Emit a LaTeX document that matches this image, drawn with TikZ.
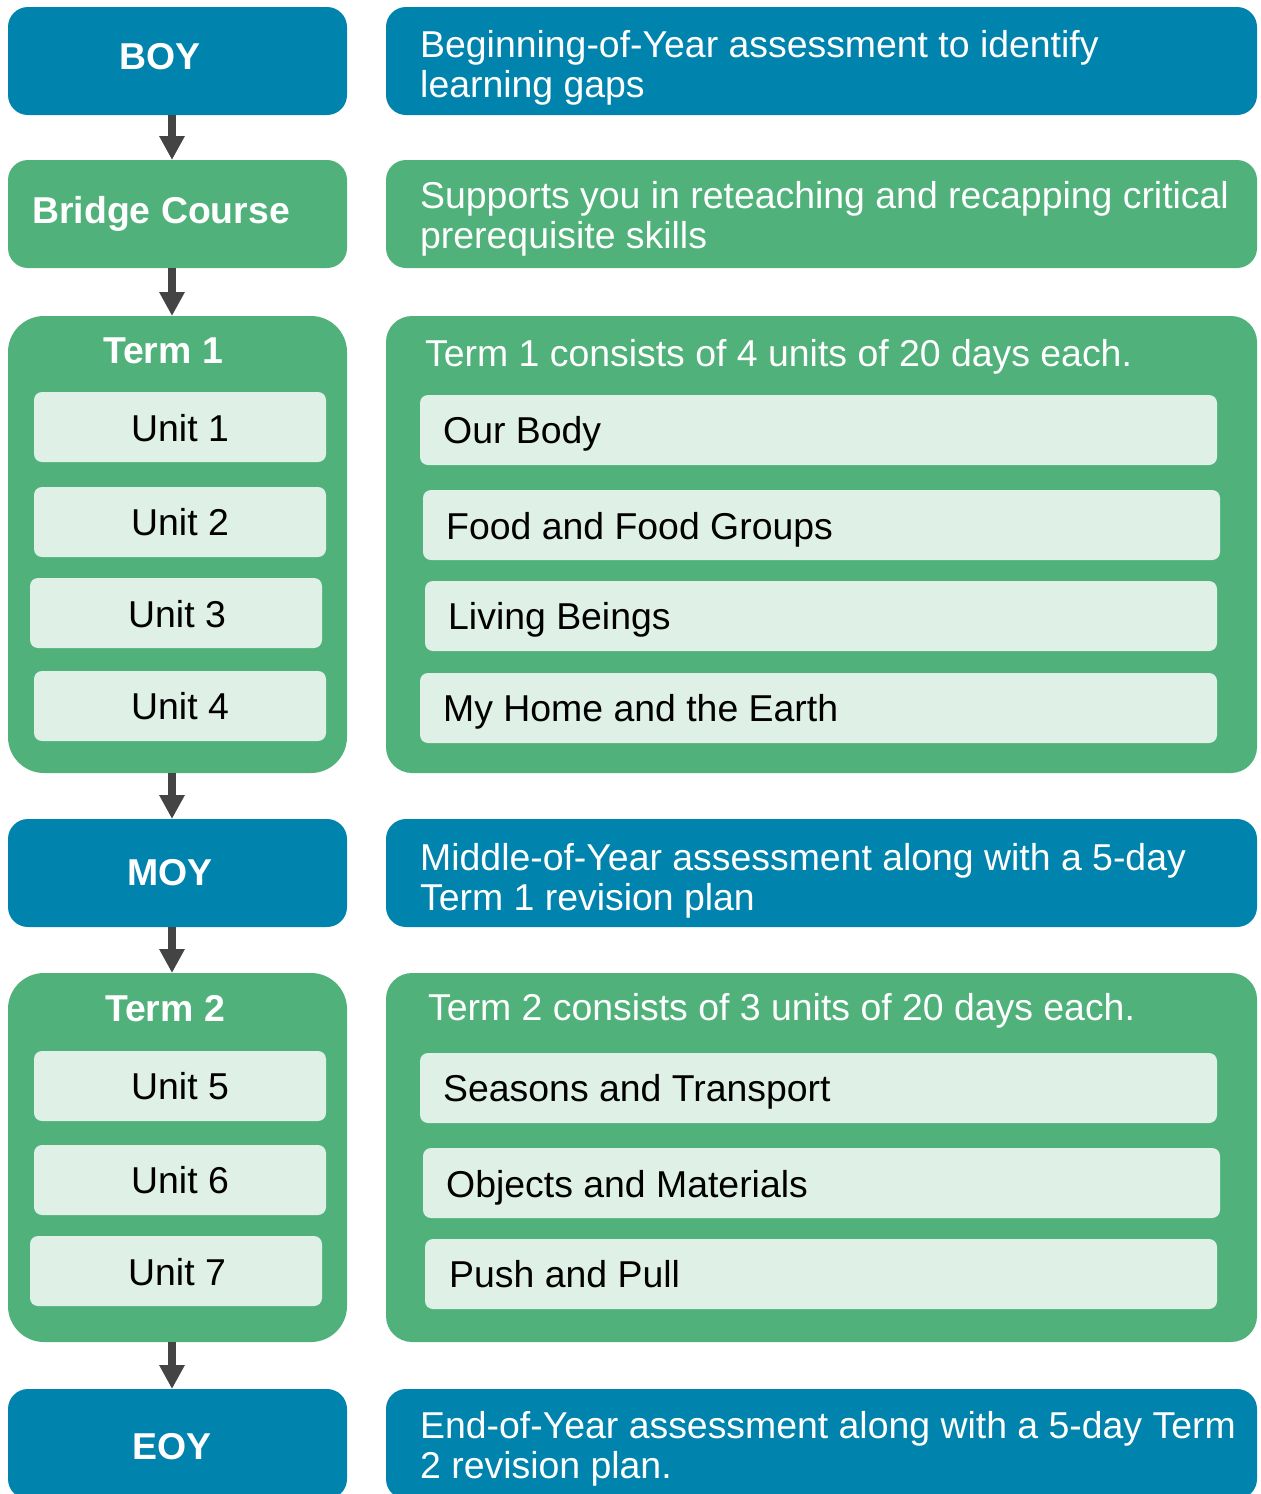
\documentclass[tikz,border=0pt]{standalone}
\usepackage{fontspec}
\setmainfont{Liberation Sans}
\usetikzlibrary{arrows.meta}
\definecolor{stageblue}{HTML}{0083AD}
\definecolor{stagegreen}{HTML}{50B27A}
\definecolor{unitfill}{HTML}{DFF0E6}
\definecolor{arrowgray}{HTML}{444444}
\begin{document}
\begin{tikzpicture}[x=1pt,y=-1pt,
  panel/.style={rectangle, draw=none, anchor=north west, inner sep=0pt, outer sep=0pt},
  bluebox/.style={panel, fill=stageblue, rounded corners=20pt},
  greenbox/.style={panel, fill=stagegreen, rounded corners=20pt},
  termbox/.style={panel, fill=stagegreen, rounded corners=36pt},
  termdesc/.style={panel, fill=stagegreen, rounded corners=26pt},
  unitbox/.style={panel, fill=unitfill, rounded corners=8pt},
  bigtxt/.style={font=\fontsize{37.4}{40}\selectfont, inner sep=0pt},
  headtxt/.style={bigtxt, font=\fontsize{37.4}{40}\selectfont\bfseries, text=white, anchor=base},
  desctxt/.style={bigtxt, text=white, anchor=base west, align=left},
  unittxt/.style={bigtxt, text=black, anchor=base},
  topictxt/.style={bigtxt, text=black, anchor=base west},
  flow/.style={draw=arrowgray, line width=8pt, -{Triangle[width=24pt,length=24pt]}}
]
\useasboundingbox (0,0) rectangle (1261,1494);
\coordinate (ax) at (172,0);

% left column: stages
\node[bluebox, minimum width=339pt, minimum height=108pt] (boy) at (8,7) {};
\node[greenbox, minimum width=339pt, minimum height=108pt] (bridge) at (8,160) {};
\node[termbox, minimum width=339pt, minimum height=457pt] (term1) at (8,316) {};
\node[bluebox, minimum width=339pt, minimum height=108pt] (moy) at (8,819) {};
\node[termbox, minimum width=339pt, minimum height=369pt] (term2) at (8,973) {};
\node[bluebox, minimum width=339pt, minimum height=110pt] (eoy) at (8,1389) {};

% right column: descriptions
\node[bluebox, minimum width=871pt, minimum height=108pt] (boyd) at (386,7) {};
\node[greenbox, minimum width=871pt, minimum height=108pt] (bridged) at (386,160) {};
\node[termdesc, minimum width=871pt, minimum height=457pt] (term1d) at (386,316) {};
\node[bluebox, minimum width=871pt, minimum height=108pt] (moyd) at (386,819) {};
\node[termdesc, minimum width=871pt, minimum height=369pt] (term2d) at (386,973) {};
\node[bluebox, minimum width=871pt, minimum height=110pt] (eoyd) at (386,1389) {};

% unit boxes, term 1
\node[unitbox, minimum width=292pt, minimum height=70pt] (u1) at (34,392) {};
\node[unitbox, minimum width=292pt, minimum height=70pt] (u2) at (34,487) {};
\node[unitbox, minimum width=292pt, minimum height=70pt] (u3) at (30,578) {};
\node[unitbox, minimum width=292pt, minimum height=70pt] (u4) at (34,671) {};
% unit boxes, term 2
\node[unitbox, minimum width=292pt, minimum height=70pt] (u5) at (34,1051) {};
\node[unitbox, minimum width=292pt, minimum height=70pt] (u6) at (34,1145) {};
\node[unitbox, minimum width=292pt, minimum height=70pt] (u7) at (30,1236) {};

% topic boxes, term 1
\node[unitbox, minimum width=797pt, minimum height=70pt] (t1) at (420,395) {};
\node[unitbox, minimum width=797pt, minimum height=70pt] (t2) at (423,490) {};
\node[unitbox, minimum width=792pt, minimum height=70pt] (t3) at (425,581) {};
\node[unitbox, minimum width=797pt, minimum height=70pt] (t4) at (420,673) {};
% topic boxes, term 2
\node[unitbox, minimum width=797pt, minimum height=70pt] (t5) at (420,1053) {};
\node[unitbox, minimum width=797pt, minimum height=70pt] (t6) at (423,1148) {};
\node[unitbox, minimum width=792pt, minimum height=70pt] (t7) at (425,1239) {};

% stage labels
\node[headtxt] (boyl) at (160,69) {BOY};
\node[headtxt, anchor=base west] (bridgel) at (32,223) {Bridge Course};
\node[headtxt] (term1l) at (163,363) {Term 1};
\node[headtxt] (moyl) at (170,885) {MOY};
\node[headtxt] (term2l) at (165,1021) {Term 2};
\node[headtxt] (eoyl) at (172,1459) {EOY};

% descriptions (anchored on the baseline of the last line)
\node[desctxt] (boydl) at (420,97) {Beginning-of-Year assessment to identify\\learning gaps};
\node[desctxt] (bridgedl) at (420,248) {Supports you in reteaching and recapping critical\\prerequisite skills};
\node[desctxt] (term1dl) at (425,366) {Term 1 consists of 4 units of 20 days each.};
\node[desctxt] (moydl) at (420,910) {Middle-of-Year assessment along with a 5-day\\Term 1 revision plan};
\node[desctxt] (term2dl) at (428,1020) {Term 2 consists of 3 units of 20 days each.};
\node[desctxt] (eoydl) at (420,1478) {End-of-Year assessment along with a 5-day Term\\2 revision plan.};

% unit labels
\node[unittxt] at (180,441) {Unit 1};
\node[unittxt] at (180,535) {Unit 2};
\node[unittxt] at (177,627) {Unit 3};
\node[unittxt] at (180,719) {Unit 4};
\node[unittxt] at (180,1099) {Unit 5};
\node[unittxt] at (180,1193) {Unit 6};
\node[unittxt] at (177,1285) {Unit 7};

% topic labels
\node[topictxt] at (443,443) {Our Body};
\node[topictxt] at (446,539) {Food and Food Groups};
\node[topictxt] at (448,629) {Living Beings};
\node[topictxt] at (443,721) {My Home and the Earth};
\node[topictxt] at (443,1101) {Seasons and Transport};
\node[topictxt] at (446,1197) {Objects and Materials};
\node[topictxt] at (449,1287) {Push and Pull};

% flow arrows
\draw[flow] (boy.south -| ax) -- (bridge.north -| ax);
\draw[flow] (bridge.south -| ax) -- (term1.north -| ax);
\draw[flow] (term1.south -| ax) -- (moy.north -| ax);
\draw[flow] (moy.south -| ax) -- (term2.north -| ax);
\draw[flow] (term2.south -| ax) -- (eoy.north -| ax);
\end{tikzpicture}
\end{document}
